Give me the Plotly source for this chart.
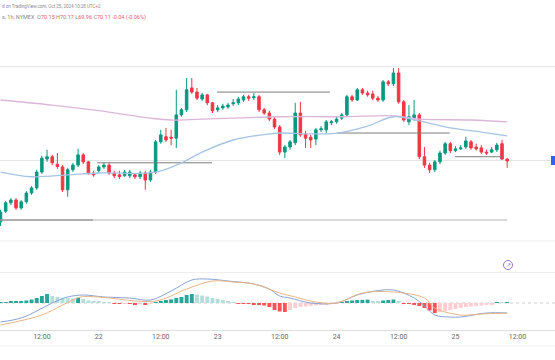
import plotly.graph_objects as go
from datetime import datetime, timedelta

# ---------------- data ----------------
first_bar = datetime(2024, 10, 21, 4)   # 1h bars, NYMEX session skips 23:00 (UTC+2)
n_axis_slots = 112

opens = [68.80, 69.03, 69.21, 69.27, 69.10, 69.23, 69.42, 69.53, 69.87, 70.15,
         70.20, 70.04, 69.98, 69.49, 69.92, 70.02, 70.24, 70.09, 69.85, 69.90,
         69.98, 70.02, 69.85, 69.81, 69.79, 69.79, 69.81, 69.77, 69.85, 69.70,
         69.87, 70.52, 70.63, 70.62, 70.60, 71.10, 71.21, 71.68, 71.59, 71.44,
         71.53, 71.36, 71.21, 71.25, 71.27, 71.34, 71.36, 71.42, 71.49, 71.47,
         71.49, 71.21, 71.14, 71.01, 70.84, 70.30, 70.41, 70.50, 71.14, 70.69,
         70.62, 70.58, 70.78, 70.78, 70.93, 70.95, 71.03, 71.10, 71.49, 71.42,
         71.64, 71.57, 71.55, 71.46, 71.42, 71.81, 71.77, 72.00, 71.38, 70.95,
         71.04, 71.10, 70.20, 70.02, 69.92, 70.09, 70.28, 70.48, 70.33, 70.37,
         70.41, 70.52, 70.41, 70.39, 70.30, 70.30, 70.35, 70.48, 70.15]
highs = [69.06, 69.25, 69.31, 69.31, 69.27, 69.46, 69.57, 69.92, 70.22, 70.35,
         70.24, 70.28, 70.02, 69.96, 70.07, 70.37, 70.28, 70.11, 69.90, 70.02,
         70.07, 70.07, 69.90, 69.90, 69.92, 69.92, 69.85, 69.90, 69.90, 69.92,
         70.56, 70.78, 70.82, 70.78, 71.64, 71.25, 71.89, 71.89, 71.68, 71.57,
         71.55, 71.38, 71.31, 71.34, 71.36, 71.44, 71.49, 71.53, 71.53, 71.57,
         71.53, 71.25, 71.19, 71.06, 70.88, 70.45, 70.56, 71.36, 71.38, 70.76,
         70.67, 70.82, 70.86, 70.99, 70.99, 71.06, 71.14, 71.53, 71.53, 71.68,
         71.68, 71.62, 71.62, 71.51, 71.85, 71.85, 72.11, 72.11, 71.42, 71.31,
         71.42, 71.14, 70.41, 70.07, 70.13, 70.33, 70.52, 70.52, 70.43, 70.45,
         70.63, 70.56, 70.48, 70.45, 70.35, 70.41, 70.50, 70.56, 70.17]
lows = [68.71, 68.99, 69.16, 69.06, 69.06, 69.19, 69.38, 69.49, 69.83, 70.09,
        70.02, 69.94, 69.44, 69.34, 69.87, 69.98, 70.04, 69.81, 69.77, 69.85,
        69.94, 69.81, 69.74, 69.72, 69.77, 69.74, 69.72, 69.72, 69.49, 69.66,
        69.83, 70.48, 70.52, 70.45, 70.39, 71.06, 71.16, 71.55, 71.42, 71.40,
        71.31, 71.14, 71.16, 71.21, 71.23, 71.29, 71.31, 71.38, 71.40, 71.42,
        71.16, 71.10, 70.97, 70.80, 70.24, 70.17, 70.35, 70.45, 70.63, 70.39,
        70.39, 70.45, 70.73, 70.71, 70.88, 70.91, 70.99, 71.06, 71.38, 71.40,
        71.53, 71.49, 71.42, 71.38, 71.38, 71.72, 71.72, 71.34, 70.95, 70.88,
        70.97, 70.15, 69.96, 69.85, 69.87, 70.04, 70.24, 70.28, 70.30, 70.35,
        70.37, 70.35, 70.33, 70.26, 70.24, 70.28, 70.30, 70.13, 69.96]
closes = [69.01, 69.21, 69.27, 69.10, 69.23, 69.42, 69.53, 69.87, 70.17, 70.20,
          70.07, 69.99, 69.49, 69.92, 70.02, 70.24, 70.09, 69.85, 69.81, 69.98,
          70.02, 69.85, 69.79, 69.77, 69.87, 69.87, 69.77, 69.85, 69.70, 69.87,
          70.52, 70.67, 70.56, 70.60, 71.10, 71.21, 71.64, 71.59, 71.46, 71.53,
          71.36, 71.19, 71.25, 71.29, 71.31, 71.36, 71.44, 71.49, 71.46, 71.49,
          71.21, 71.14, 71.01, 70.84, 70.30, 70.41, 70.52, 71.14, 70.67, 70.60,
          70.56, 70.78, 70.80, 70.95, 70.95, 71.01, 71.10, 71.49, 71.42, 71.64,
          71.57, 71.53, 71.46, 71.42, 71.81, 71.77, 72.00, 71.38, 70.99, 71.06,
          71.10, 70.20, 70.02, 69.92, 70.09, 70.28, 70.48, 70.33, 70.37, 70.39,
          70.54, 70.39, 70.37, 70.30, 70.28, 70.35, 70.45, 70.15, 70.11]

# moving averages, read at sample bars
ma_slow_bar = [0, 10, 19, 29, 33, 39, 54, 66, 76, 81, 91, 98]
ma_slow = [71.42, 71.31, 71.19, 71.03, 70.99, 71.01, 71.06, 71.06, 71.08, 71.01, 70.99, 70.95]
ma_fast_bar = [0, 6, 13, 19, 30, 35, 39, 45, 52, 54, 60, 65, 71, 76, 81, 87, 93, 98]
ma_fast = [69.87, 69.77, 69.81, 69.85, 69.87, 70.07, 70.30, 70.56, 70.69, 70.71, 70.69,
           70.71, 70.86, 71.06, 70.97, 70.82, 70.73, 70.65]

# drawn horizontal levels (bar-index span, price)
level_price = [68.84, 68.84, 71.59, 70.07, 70.71, 70.20]
level_from = [-0.1, -0.1, 41.9, 18.7, 65.1, 87.9]
level_to = [98.0, 17.9, 63.7, 40.9, 86.9, 97.0]
level_color = ["#b4b4b4", "#858585", "#7d7d7d", "#7d7d7d", "#7d7d7d", "#7d7d7d"]

# MACD
macd_hist = [0.005, 0.005, 0.0075, 0.01, 0.01, 0.0125, 0.0175, 0.025, 0.035, 0.045,
             0.035, 0.03, 0.026, 0.024, 0.022, 0.026, 0.02, 0.013, 0.01, 0.008,
             0.005, 0.002, -0.003, -0.004, -0.0025, -0.005, -0.006, -0.004, -0.006, -0.002,
             0.005, 0.01, 0.015, 0.018, 0.025, 0.03, 0.04, 0.045, 0.0425, 0.0375,
             0.0325, 0.025, 0.02, 0.015, 0.01, 0.004, -0.0025, -0.004, -0.005, -0.006,
             -0.0075, -0.0125, -0.02, -0.035, -0.0425, -0.045, -0.035, -0.025, -0.02, -0.0175,
             -0.015, -0.0125, -0.01, -0.0075, -0.005, -0.0025, 0.005, 0.01, 0.0125, 0.015,
             0.016, 0.017, 0.01, 0.0075, 0.0125, 0.015, 0.0175, 0.01, -0.0025, -0.005,
             -0.0075, -0.015, -0.025, -0.0375, -0.05, -0.045, -0.04, -0.035, -0.03, -0.025,
             -0.02, -0.0175, -0.015, -0.0125, -0.01, -0.0075, 0.003, 0.0015, 0.0025]
macd_bar = [0, 4, 7, 10, 13, 16, 20, 25, 29, 33, 37, 40, 44, 49, 52, 54, 56, 60, 65, 69,
            72.5, 76, 80, 82, 84, 87, 89, 94, 98]
macd_line = [-0.095, -0.075, -0.04, 0.0, 0.03, 0.04, 0.03, 0.025, 0.015, 0.06, 0.115, 0.12,
             0.11, 0.095, 0.07, 0.035, 0.025, 0.0, 0.0, 0.04, 0.06, 0.065, 0.025, -0.015,
             -0.06, -0.07, -0.07, -0.05, -0.05]
signal_bar = [0, 8, 12, 15.5, 19, 30, 36, 41, 45, 49, 54, 57, 61, 65, 70, 76, 82, 84, 89, 93, 98]
signal_line = [-0.11, -0.06, -0.01, 0.03, 0.03, 0.01, 0.07, 0.11, 0.105, 0.095, 0.05, 0.03,
               0.005, 0.0, 0.05, 0.055, 0.025, -0.025, -0.06, -0.055, -0.05]

# ---------------- build ----------------
times = []
t = first_bar
while len(times) < n_axis_slots:
    if t.hour != 23:
        times.append(t)
    t += timedelta(hours=1)
tickvals = [i for i, tt in enumerate(times) if tt.hour in (0, 12)]
ticktext = [str(times[i].day) if times[i].hour == 0 else "12:00" for i in tickvals]

bars = list(range(len(opens)))

UP, DN = "#089981", "#f23645"
hist_colors = []
for i, v in enumerate(macd_hist):
    prev = macd_hist[i - 1] if i > 0 else v
    if v >= 0:
        hist_colors.append("#26a69a" if v >= prev else "#b2dfdb")
    else:
        hist_colors.append("#ff5252" if v < prev else "#ffcdd2")

fig = go.Figure()

for x0, x1, p, c in zip(level_from, level_to, level_price, level_color):
    fig.add_trace(go.Scatter(x=[x0, x1], y=[p, p], mode="lines",
                             line=dict(color=c, width=1), hoverinfo="skip", yaxis="y"))

fig.add_trace(go.Scatter(x=ma_slow_bar, y=ma_slow, mode="lines", line=dict(color="#dcb6d9", width=1.3, shape="spline"), yaxis="y"))
fig.add_trace(go.Scatter(x=ma_fast_bar, y=ma_fast, mode="lines", line=dict(color="#a6c4e3", width=1.3, shape="spline"), yaxis="y"))

fig.add_trace(go.Candlestick(
    x=bars, open=opens, high=highs, low=lows, close=closes, yaxis="y",
    increasing=dict(line=dict(color=UP, width=1), fillcolor=UP),
    decreasing=dict(line=dict(color=DN, width=1), fillcolor=DN),
    whiskerwidth=0))

fig.add_trace(go.Bar(x=bars, y=macd_hist, marker=dict(color=hist_colors, line=dict(width=0)), yaxis="y2"))
fig.add_trace(go.Scatter(x=macd_bar, y=macd_line, mode="lines", line=dict(color="#87a3d6", width=1, shape="spline"), yaxis="y2"))
fig.add_trace(go.Scatter(x=signal_bar, y=signal_line, mode="lines", line=dict(color="#e8b585", width=1, shape="spline"), yaxis="y2"))

fig.update_layout(
    width=555, height=360, margin=dict(l=0, r=0, t=0, b=0),
    paper_bgcolor="white", plot_bgcolor="white", showlegend=False, bargap=0.25,
    xaxis=dict(domain=[0, 1], range=[-0.1, 107.25], anchor="y2", tickvals=tickvals, ticktext=ticktext,
               tickfont=dict(size=7, color="#666666", family="Roboto"), showgrid=False, zeroline=False,
               showline=True, linecolor="#dedede", ticks="", rangeslider=dict(visible=False)),
    yaxis=dict(domain=[1 - 240 / 360, 1 - 20 / 360], range=[68.41, 73.14], tickvals=[70.13, 72.13],
               showticklabels=False, gridcolor="#e4e4e4", zeroline=False, anchor="x"),
    yaxis2=dict(domain=[1 - 330 / 360, 1 - 242 / 360], range=[-0.135, 0.305], tickvals=[0.155],
                showticklabels=False, gridcolor="#efefef", zeroline=False, anchor="x"),
)

# MACD zero line (dotted) and pane separators
fig.add_shape(type="line", xref="paper", yref="y2", x0=0, x1=1, y0=0, y1=0,
              line=dict(color="#cfcfcf", width=1, dash="dot"), layer="below")
fig.add_shape(type="line", xref="paper", yref="paper", x0=0, x1=1, y0=1 - 241 / 360, y1=1 - 241 / 360,
              line=dict(color="#eeeeee", width=1))
fig.add_shape(type="line", xref="paper", yref="paper", x0=0, x1=1, y0=1 - 346 / 360, y1=1 - 346 / 360,
              line=dict(color="#eeeeee", width=1))
# last price label (cropped at right edge)
fig.add_shape(type="rect", xref="paper", yref="paper", x0=551 / 555, x1=1, y0=1 - 165 / 360, y1=1 - 156 / 360,
              fillcolor="#2962ff", line=dict(width=0))
# small circled icon in MACD pane
fig.add_shape(type="circle", xref="paper", yref="paper", x0=503.5 / 555, x1=512.5 / 555,
              y0=1 - 269.5 / 360, y1=1 - 260.5 / 360, line=dict(color="#9575cd", width=1))
fig.add_annotation(xref="paper", yref="paper", x=508 / 555, y=1 - 265 / 360, text="↗", showarrow=False,
                   font=dict(size=6, color="#7e57c2"), xanchor="center", yanchor="middle")

fig.add_annotation(xref="paper", yref="paper", x=0, y=1 - 6 / 360, xanchor="left", yanchor="middle",
                   text="d on TradingView.com, Oct 25, 2024 10:28 UTC+2", showarrow=False,
                   font=dict(size=4.5, color="#8a8a8a", family="Roboto"))
val = "<span style='color:#e5606a'>{}</span>"
fig.add_annotation(xref="paper", yref="paper", x=0, y=1 - 17 / 360, xanchor="left", yanchor="middle",
                   text="s, 1h, NYMEX  O" + val.format("70.15") + " H" + val.format("70.17") + " L" + val.format("69.96")
                        + " C" + val.format("70.11") + " " + val.format("-0.04 (-0.06%)"),
                   showarrow=False, font=dict(size=5.5, color="#8a8a8a", family="Roboto"))

fig.write_html("out.html", config={"displayModeBar": False},
               post_script="document.body.style.margin='0';document.body.style.padding='0';")
